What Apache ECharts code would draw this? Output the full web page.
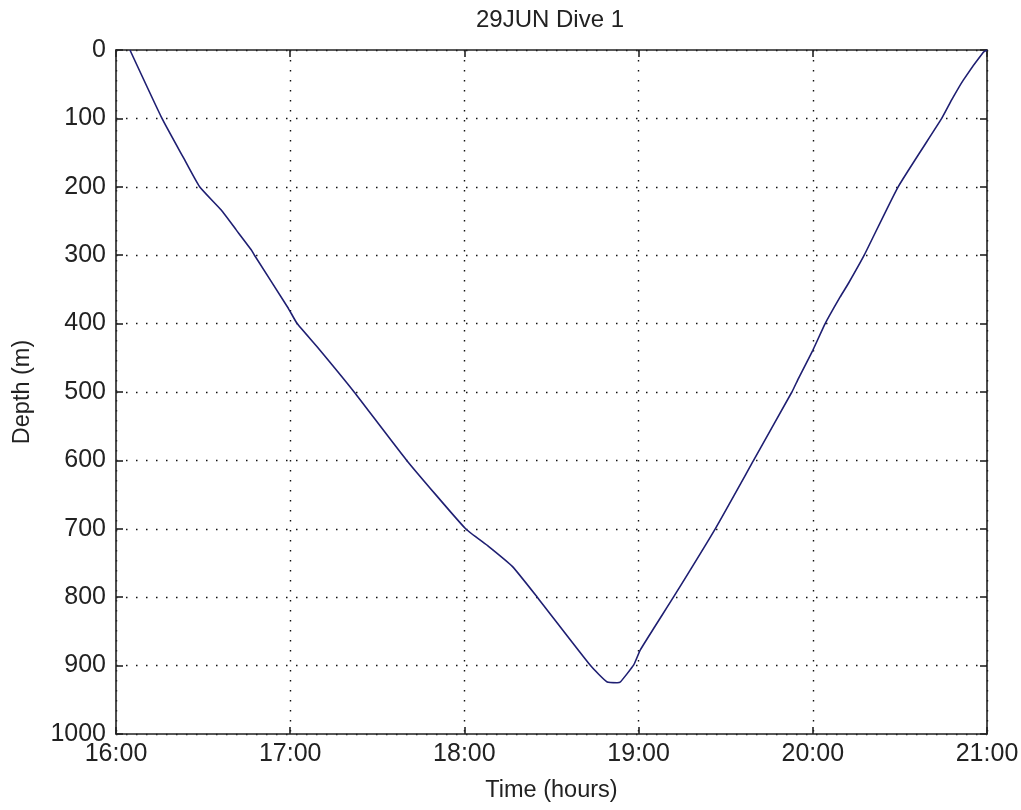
<!DOCTYPE html>
<html>
<head>
<meta charset="utf-8">
<script src="https://cdn.jsdelivr.net/npm/echarts@6/dist/echarts.min.js"></script>
<style>
  html, body { margin: 0; padding: 0; background: #fff; }
  #chart { width: 1021px; height: 810px; }
</style>
</head>
<body>
<div id="chart"></div>
<script>
// Dive profile: time of day (decimal hours) and depth (m)
const timeHours = [
  16.080, 16.264, 16.384, 16.480, 16.604, 16.690, 16.776, 16.795,
  16.990, 17.040, 17.158, 17.367, 17.669, 18.007, 18.140, 18.275, 18.418, 18.724,
  18.820, 18.877, 18.895, 18.972, 19.010, 19.200, 19.440, 19.660, 19.880, 19.918,
  20.000, 20.071, 20.157, 20.205, 20.295, 20.490, 20.740, 20.797, 20.864, 20.980,
  21.000
];
const depthM = [
  0, 100, 156, 200, 234, 263, 292, 300,
  378, 400, 435, 500, 600, 700, 726, 755, 800, 900,
  924, 925, 924, 899, 877, 800, 700, 600, 500, 480,
  439, 400, 361, 341, 300, 200, 100, 73, 44, 3,
  0
];
const timeTicks = [16, 17, 18, 19, 20, 21];
const depthTicks = [0, 100, 200, 300, 400, 500, 600, 700, 800, 900, 1000];

const chartTitle = '29JUN Dive 1';
const xName = 'Time (hours)';
const yName = 'Depth (m)';

const FONT = 'Liberation Sans';
const gridDots = { color: '#111', width: 1.4, type: [1.5, 8.5] };
const frame = { show: true, onZero: false, lineStyle: { color: '#222', width: 1.6 } };
const ticksIn = { show: true, inside: true, length: 7, lineStyle: { color: '#222', width: 1.6 } };

const points = timeHours.map((t, i) => [t, depthM[i]]);

const chart = echarts.init(document.getElementById('chart'), null, { renderer: 'canvas' });
chart.setOption({
  backgroundColor: '#fff',
  animation: false,
  title: {
    text: chartTitle,
    left: 545, top: 3, textAlign: 'center',
    textStyle: { fontFamily: FONT, fontSize: 24, fontWeight: 'normal', color: '#222' }
  },
  grid: { left: 116, right: 34, top: 50, bottom: 76, containLabel: false, outerBoundsMode: 'none' },
  xAxis: [
    {
      type: 'value', min: 16, max: 21, interval: 1, position: 'bottom',
      name: xName, nameLocation: 'middle', nameGap: 45,
      nameTextStyle: { fontFamily: FONT, fontSize: 23.5, color: '#222' },
      axisLine: frame, axisTick: ticksIn,
      axisLabel: {
        fontFamily: FONT, fontSize: 25, color: '#222', margin: 8,
        formatter: v => timeTicks.includes(v) ? v + ':00' : ''
      },
      splitLine: { show: true, lineStyle: gridDots }
    },
    {
      type: 'value', min: 16, max: 21, interval: 1, position: 'top',
      axisLine: frame, axisTick: ticksIn, axisLabel: { show: false }, splitLine: { show: false }
    }
  ],
  yAxis: [
    {
      type: 'value', min: 0, max: 1000, interval: 100, inverse: true, position: 'left',
      name: yName, nameLocation: 'middle', nameGap: 81, nameRotate: 90,
      nameTextStyle: { fontFamily: FONT, fontSize: 23.5, color: '#222' },
      axisLine: frame, axisTick: ticksIn,
      axisLabel: {
        fontFamily: FONT, fontSize: 25, color: '#222', margin: 10,
        formatter: v => depthTicks.includes(v) ? String(v) : ''
      },
      splitLine: { show: true, lineStyle: gridDots }
    },
    {
      type: 'value', min: 0, max: 1000, interval: 100, inverse: true, position: 'right',
      axisLine: frame, axisTick: ticksIn, axisLabel: { show: false }, splitLine: { show: false }
    }
  ],
  series: [{
    type: 'line',
    data: points,
    xAxisIndex: 0, yAxisIndex: 0,
    showSymbol: false,
    smooth: 0.15,
    lineStyle: { color: '#1f1f72', width: 1.6 }
  }]
});
</script>
</body>
</html>
